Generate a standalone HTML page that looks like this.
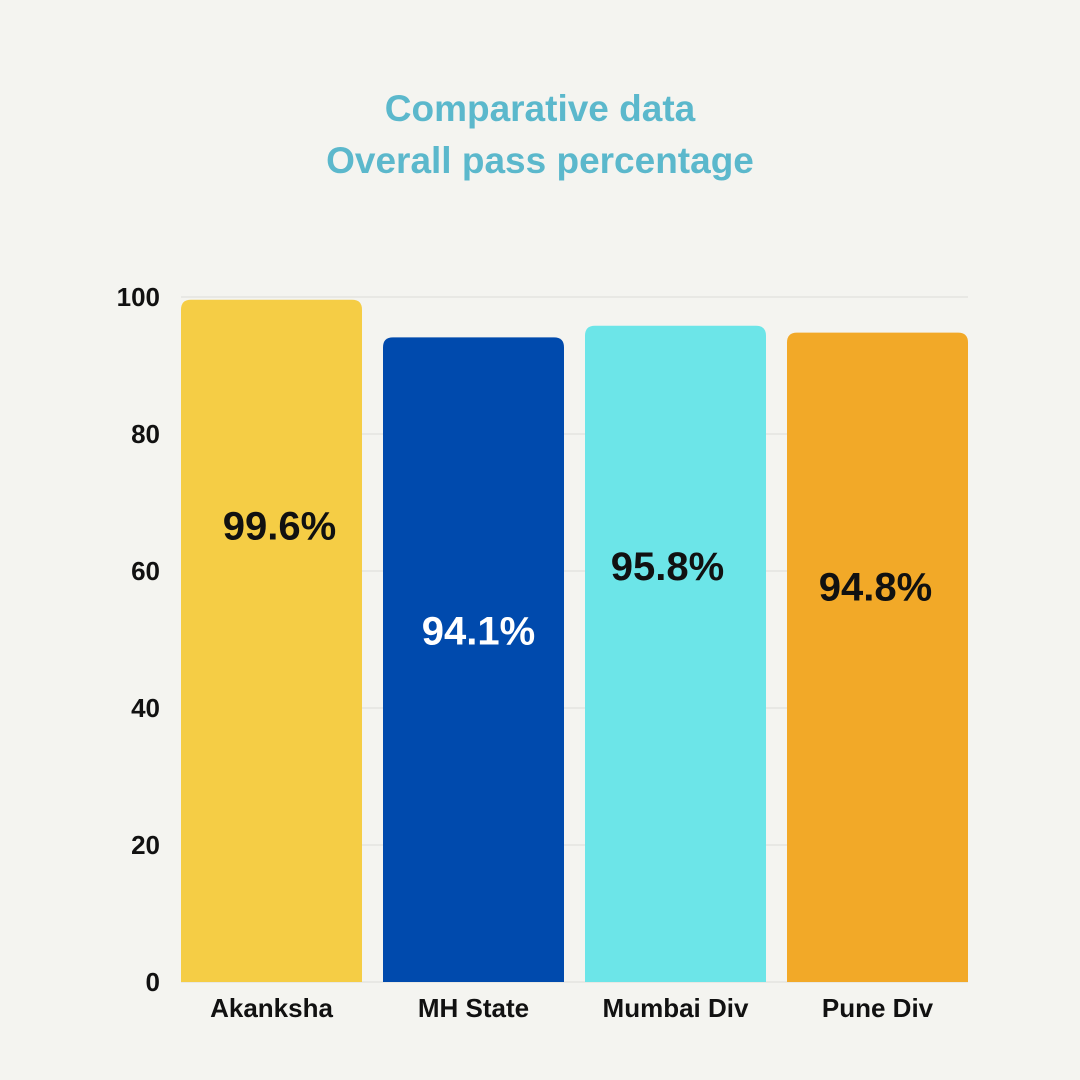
<!DOCTYPE html>
<html><head><meta charset="utf-8"><style>
body{margin:0;background:#f4f4f0;}
svg{display:block;font-family:"Liberation Sans",sans-serif;}
</style></head><body>
<svg id="chart" width="1080" height="1080" viewBox="0 0 1080 1080">
<rect width="1080" height="1080" fill="#f4f4f0"/>
<text x="540" y="121" text-anchor="middle" font-size="37" font-weight="bold" fill="#5bb8cc">Comparative data</text>
<text x="540" y="173" text-anchor="middle" font-size="37" font-weight="bold" fill="#5bb8cc">Overall pass percentage</text>
<g id="grid"></g><g id="bars"></g><g id="labels"></g>
</svg>
<script>
const categories=["Akanksha","MH State","Mumbai Div","Pune Div"];
const values=[99.6,94.1,95.8,94.8];
const valueLabels=["99.6%","94.1%","95.8%","94.8%"];
const yTicks=[0,20,40,60,80,100];
const colors=["#f5cd45","#004aad","#6ce5e8","#f2a928"];
const labelColors=["#111","#fff","#111","#111"];
const labelOffsetsFromTop=[240,307,254,268];
const labelDx=[8,5,-8,-2];
const NS="http://www.w3.org/2000/svg";
const x0=181,bw=181,gap=21,yTop=297,yBot=982;
const y=v=>yBot-(v/100)*(yBot-yTop);
const xb=i=>x0+i*(bw+gap);
const grid=document.getElementById('grid'),bars=document.getElementById('bars'),labels=document.getElementById('labels');
function mk(tag,attrs,parent,txt){const e=document.createElementNS(NS,tag);for(const k in attrs)e.setAttribute(k,attrs[k]);if(txt!==undefined)e.textContent=txt;parent.appendChild(e);return e;}
yTicks.forEach(t=>{
  const l=mk('line',{x1:x0,x2:968,y1:y(t),y2:y(t),stroke:'#dcdcd8','stroke-width':1},grid);
  
  
  const tx=mk('text',{x:160,y:y(t)+9,'text-anchor':'end','font-size':26,'font-weight':'bold',fill:'#111'},labels,String(t));
  
  
});
values.forEach((v,i)=>{
  const x=xb(i),top=y(v),r=10;
  const p=mk('path',{d:`M${x},${yBot}V${top+r}Q${x},${top} ${x+r},${top}H${x+bw-r}Q${x+bw},${top} ${x+bw},${top+r}V${yBot}Z`,fill:colors[i]},bars);
  
  
  const vl=mk('text',{x:x+bw/2+labelDx[i],y:top+labelOffsetsFromTop[i],'text-anchor':'middle','font-size':40,'font-weight':'bold',fill:labelColors[i]},labels,valueLabels[i]);
  
  
  const cl=mk('text',{x:x+bw/2,y:1017,'text-anchor':'middle','font-size':26,'font-weight':'bold',fill:'#111'},labels,categories[i]);
  
  
});
</script>
</body></html>
